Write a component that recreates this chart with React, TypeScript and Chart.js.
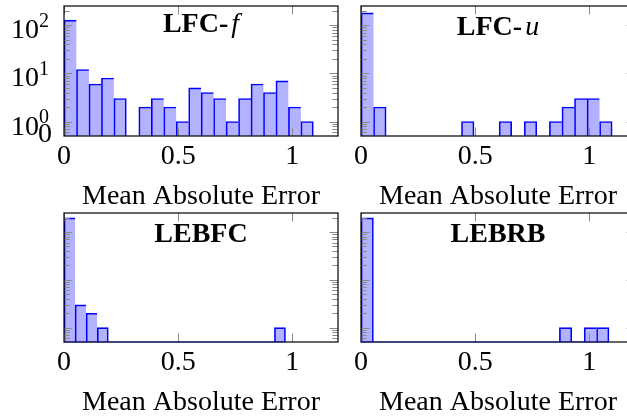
import React, { useEffect, useRef } from 'react';
import { Chart, registerables } from 'chart.js';

Chart.register(...registerables);

// ---------- data ----------
const X_TICKS = [0, 0.5, 1];
const X_TICK_LABELS = ['0', '0.5', '1'];
const X_MIN = 0;
const X_MAX = 1.2;
const Y_MIN = 0.5;
const Y_MAX = 250;
const Y_MAJOR = [1, 10, 100];
const Y_MAJOR_BASE = ['10', '10', '10'];
const Y_MAJOR_EXP = ['0', '1', '2'];
const Y_STRAY_LABEL = '0';
const Y_MINOR = [0.6, 0.7, 0.8, 0.9, 2, 3, 4, 5, 6, 7, 8, 9, 20, 30, 40, 50, 60, 70, 80, 90, 200];
const X_TITLE = 'Mean Absolute Error';

const TITLE_BOLD = ['LFC-', 'LFC-', 'LEBFC', 'LEBRB'];
const TITLE_ITALIC = ['f', 'u', '', ''];

const BIN_WIDTHS = [0.0546, 0.055, 0.0485, 0.0543];
const COUNTS_LFC_F = [127, 12, 6, 8, 3, 0, 2, 3, 2, 1, 5, 4, 3, 1, 3, 6, 4, 7, 2, 1];
const COUNTS_LFC_U = [180, 2, 0, 0, 0, 0, 0, 0, 1, 0, 0, 1, 0, 1, 0, 1, 2, 3, 3, 1];
const COUNTS_LEBFC = [197, 3, 2, 1, 0, 0, 0, 0, 0, 0, 0, 0, 0, 0, 0, 0, 0, 0, 0, 1];
const COUNTS_LEBRB = [197, 0, 0, 0, 0, 0, 0, 0, 0, 0, 0, 0, 0, 0, 0, 0, 1, 0, 1, 1];
const ALL_COUNTS = [COUNTS_LFC_F, COUNTS_LFC_U, COUNTS_LEBFC, COUNTS_LEBRB];

// ---------- layout / style ----------
const FONT = '"Liberation Serif", "Times New Roman", serif';
const MAJOR_LEN = 8.5;
const MINOR_LEN = 5.7;

const LAYOUT = [
  { left: 0, top: 0, w: 350, h: 220, padL: 64, padT: 6, padR: 12, areaH: 130, yLabels: true, navyBase: false, titleBase: 26 },
  { left: 341, top: 0, w: 306, h: 220, padL: 20, padT: 6, padR: 12, areaH: 130, yLabels: false, navyBase: false, titleBase: 29 },
  { left: 0, top: 206, w: 350, h: 220, padL: 64, padT: 7, padR: 12, areaH: 129, yLabels: false, navyBase: true, titleBase: 28.5 },
  { left: 341, top: 206, w: 306, h: 220, padL: 20, padT: 7, padR: 12, areaH: 129, yLabels: false, navyBase: true, titleBase: 28.5 },
];

const decorPlugin = {
  id: 'panelDecor',
  afterDatasetsDraw(chart: any, _args: any, opts: any) {
    const { ctx, chartArea: a } = chart;
    const x = chart.scales.x;
    const y = chart.scales.y;
    ctx.save();
    ctx.strokeStyle = '#8a8a8a';
    ctx.lineWidth = 1;
    ctx.beginPath();
    for (const v of X_TICKS) {
      const px = Math.round(x.getPixelForValue(v)) + 0.5;
      ctx.moveTo(px, a.top);
      ctx.lineTo(px, a.top + MAJOR_LEN);
      ctx.moveTo(px, a.bottom);
      ctx.lineTo(px, a.bottom - MAJOR_LEN);
    }
    const yTick = (v: number, len: number) => {
      const py = Math.round(y.getPixelForValue(v)) + 0.5;
      ctx.moveTo(a.left, py);
      ctx.lineTo(a.left + len, py);
      ctx.moveTo(a.right, py);
      ctx.lineTo(a.right - len, py);
    };
    Y_MAJOR.forEach((v) => yTick(v, MAJOR_LEN));
    Y_MINOR.forEach((v) => yTick(v, MINOR_LEN));
    ctx.stroke();

    ctx.strokeStyle = '#000';
    ctx.lineWidth = 1.2;
    ctx.strokeRect(a.left, a.top, a.right - a.left, a.bottom - a.top);
    if (opts.navyBase) {
      ctx.strokeStyle = '#1f1f8f';
      ctx.beginPath();
      ctx.moveTo(a.left, a.bottom);
      ctx.lineTo(x.getPixelForValue(opts.histEnd), a.bottom);
      ctx.stroke();
    }
    ctx.restore();
  },
  afterDraw(chart: any, _args: any, opts: any) {
    const { ctx, chartArea: a } = chart;
    const y = chart.scales.y;
    ctx.save();
    ctx.fillStyle = '#000';
    ctx.textBaseline = 'alphabetic';
    const bold = `bold 28px ${FONT}`;
    const ital = `italic 28px ${FONT}`;
    ctx.font = bold;
    const wb = ctx.measureText(opts.titleBold).width;
    ctx.font = ital;
    const wi = opts.titleItalic ? ctx.measureText(opts.titleItalic).width + 3 : 0;
    const cx = (a.left + a.right) / 2;
    const x0 = cx - (wb + wi) / 2;
    const by = a.top + opts.titleBase;
    ctx.textAlign = 'left';
    ctx.font = bold;
    ctx.fillText(opts.titleBold, x0, by);
    if (opts.titleItalic) {
      ctx.font = ital;
      ctx.fillText(opts.titleItalic, x0 + wb + 3, by);
    }
    if (opts.yLabels) {
      Y_MAJOR.forEach((v, i) => {
        const py = y.getPixelForValue(v);
        ctx.font = `28px ${FONT}`;
        ctx.textAlign = 'right';
        ctx.fillText(Y_MAJOR_BASE[i], a.left - 25, py + 13);
        ctx.font = `20px ${FONT}`;
        ctx.textAlign = 'left';
        ctx.fillText(Y_MAJOR_EXP[i], a.left - 25, py + 1.5);
      });
      const p1 = y.getPixelForValue(Y_MAJOR[0]);
      ctx.font = `28px ${FONT}`;
      ctx.textAlign = 'center';
      ctx.fillText(Y_STRAY_LABEL, a.left - 19, p1 + 20.5);
    }
    ctx.restore();
  },
};

function Panel({ idx }: { idx: number }) {
  const ref = useRef<HTMLCanvasElement>(null);
  const L = LAYOUT[idx];
  useEffect(() => {
    const counts = ALL_COUNTS[idx];
    const bw = BIN_WIDTHS[idx];
    const data = counts.map((c, i) => ({ x: (i + 0.5) * bw, y: c > 0 ? c : null }));
    const xAxisH = L.h - L.padT - L.areaH;
    const chart = new Chart(ref.current as HTMLCanvasElement, {
      type: 'bar',
      data: {
        datasets: [
          {
            data: data as any,
            backgroundColor: 'rgba(0,0,255,0.3)',
            borderColor: '#0000ff',
            borderWidth: ((c: any) => {
              const i = c.dataIndex;
              const nextEmpty = i + 1 >= counts.length || counts[i + 1] === 0;
              return { left: 1, top: 1, bottom: 0, right: nextEmpty ? 1 : 0 };
            }) as any,
            borderSkipped: false,
            base: Y_MIN,
            barPercentage: 1,
            categoryPercentage: 1,
            grouped: false,
          } as any,
        ],
      },
      options: {
        responsive: false,
        animation: false,
        devicePixelRatio: 1,
        layout: { padding: { left: L.padL, top: L.padT, right: L.padR, bottom: 0 } },
        plugins: {
          legend: { display: false },
          tooltip: { enabled: false },
          panelDecor: {
            titleBold: TITLE_BOLD[idx],
            titleItalic: TITLE_ITALIC[idx],
            titleBase: L.titleBase,
            yLabels: L.yLabels,
            navyBase: L.navyBase,
            histEnd: bw * counts.length,
          },
        } as any,
        scales: {
          x: {
            type: 'linear',
            min: X_MIN,
            max: X_MAX,
            offset: false,
            grid: { display: false, drawTicks: false },
            border: { display: false },
            afterBuildTicks: (s: any) => {
              s.ticks = X_TICKS.map((v) => ({ value: v }));
            },
            afterFit: (s: any) => {
              s.height = xAxisH;
            },
            ticks: {
              autoSkip: false,
              maxRotation: 0,
              padding: 4,
              color: '#000',
              font: { family: FONT, size: 28, lineHeight: 1.2 },
              callback: (_v: any, i: number) => X_TICK_LABELS[i],
            },
            title: {
              display: true,
              text: X_TITLE,
              color: '#000',
              padding: { top: 0, bottom: 6.6 },
              font: { family: FONT, size: 28, lineHeight: 1.2 },
            },
          },
          y: {
            type: 'logarithmic',
            min: Y_MIN,
            max: Y_MAX,
            grid: { display: false, drawTicks: false },
            border: { display: false },
            ticks: { display: false },
            afterFit: (s: any) => {
              s.width = 0;
            },
          },
        },
      },
      plugins: [decorPlugin],
    });
    return () => chart.destroy();
  }, []);
  return (
    <canvas
      ref={ref}
      width={L.w}
      height={L.h}
      style={{ position: 'absolute', left: L.left, top: L.top, width: L.w, height: L.h }}
    />
  );
}

export default function App() {
  return (
    <div
      style={{
        position: 'fixed',
        left: 0,
        top: 0,
        width: 627,
        height: 416,
        overflow: 'hidden',
        background: '#fff',
      }}
    >
      {[0, 1, 2, 3].map((i) => (
        <Panel key={i} idx={i} />
      ))}
    </div>
  );
}
